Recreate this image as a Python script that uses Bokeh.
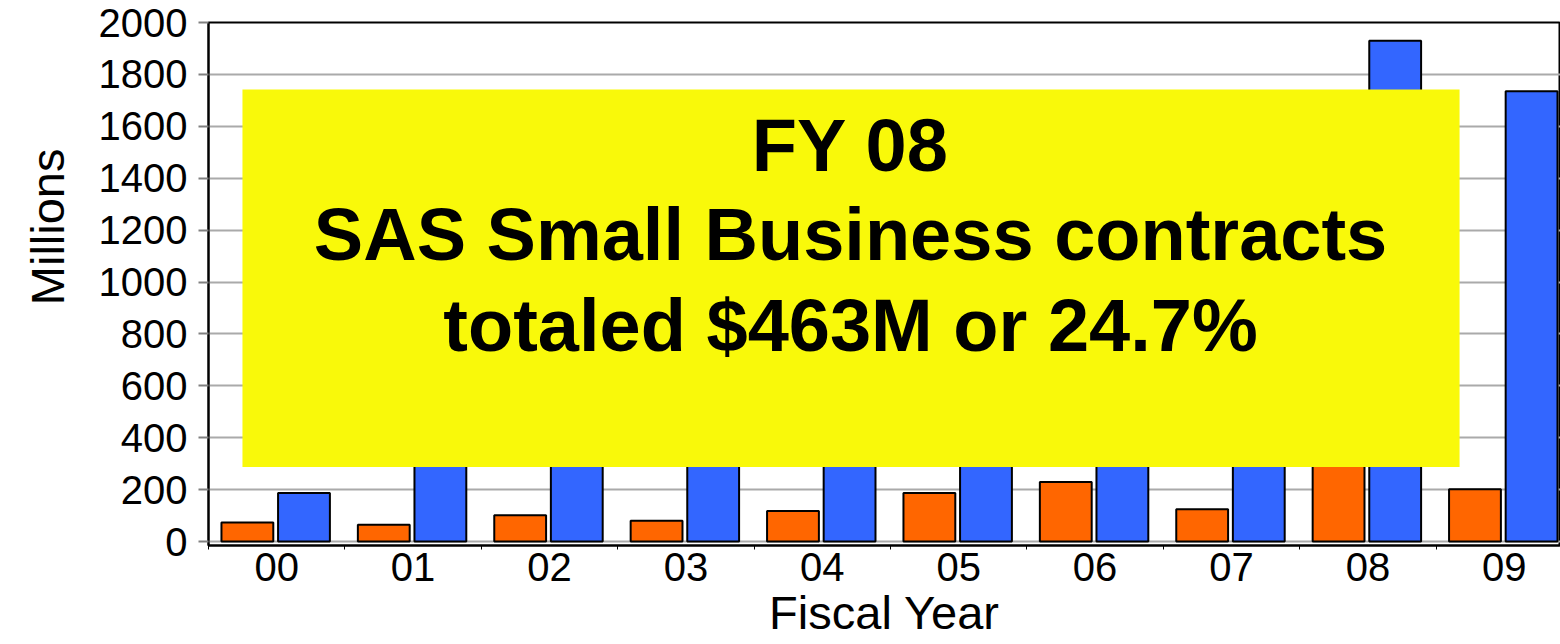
import numpy as np
from bokeh.plotting import figure
from bokeh.models import Range1d, FixedTicker, BoxAnnotation, Label, Title
from bokeh.embed import file_html
from bokeh.resources import INLINE

# ---- data ----
years = ["00", "01", "02", "03", "04", "05", "06", "07", "08", "09"]
small_business = [74, 65, 102, 80, 118, 187, 230, 125, 463, 202]      # orange, $M
total_sas = [187, 600, 720, 860, 960, 1060, 1260, 1480, 1930, 1735]   # blue, $M
y_ticks = [0, 200, 400, 600, 800, 1000, 1200, 1400, 1600, 1800, 2000]
box_lines = ["FY 08", "SAS Small Business contracts", "totaled $463M or 24.7%"]

FONT = "Liberation Sans"
ORANGE = "#FF6600"
BLUE = "#3366FF"
YELLOW = "#F9F90A"

x = np.arange(len(years))

p = figure(width=1560, height=644, output_backend="svg", toolbar_location=None,
           x_range=Range1d(-0.5, 9.412), y_range=Range1d(-15, 2000),
           min_border_left=208, min_border_right=0, min_border_top=22, min_border_bottom=99,
           background_fill_color="white", border_fill_color="white")

p.vbar(x=x - 0.215, top=small_business, width=0.38, bottom=0,
       fill_color=ORANGE, line_color="black", line_width=2)
p.vbar(x=x + 0.2, top=total_sas, width=0.38, bottom=0,
       fill_color=BLUE, line_color="black", line_width=2)

# overlay box
p.add_layout(BoxAnnotation(left=-0.251, right=8.672, bottom=287, top=1742,
                           fill_color=YELLOW, fill_alpha=1.0, line_alpha=0, level="overlay"))
for txt, yc in zip(box_lines, [1526, 1185, 833]):
    p.add_layout(Label(x=4.207, y=yc, text=txt, text_align="center", text_baseline="middle",
                       text_font=FONT, text_font_size="74px", text_font_style="bold",
                       text_color="black", level="overlay"))

# y axis title
p.add_layout(Title(text="Millions", align="right", vertical_align="top", offset=126, standoff=40,
                   text_font=FONT, text_font_size="47px", text_font_style="normal",
                   text_color="black"), "left")

# axes
p.xaxis.ticker = FixedTicker(ticks=list(x), minor_ticks=list(np.arange(len(years) + 1) - 0.5))
p.xaxis.major_label_overrides = {int(i): y for i, y in zip(x, years)}
p.xaxis.major_tick_out = 0
p.xaxis.major_tick_in = 0
p.xaxis.minor_tick_out = 4
p.xaxis.minor_tick_in = 0
p.xaxis.minor_tick_line_color = "black"
p.xaxis.major_label_standoff = 3
p.xaxis.axis_label = "Fiscal Year"
p.xaxis.axis_label_standoff = 2
p.xaxis.axis_label_text_font = FONT
p.xaxis.axis_label_text_font_size = "47px"
p.xaxis.axis_label_text_font_style = "normal"
p.xaxis.axis_label_text_color = "black"

p.yaxis.ticker = FixedTicker(ticks=y_ticks)
p.yaxis.minor_tick_line_color = None
p.yaxis.major_tick_out = 10
p.yaxis.major_tick_in = 0
p.yaxis.major_tick_line_color = "#808080"
p.yaxis.major_tick_line_width = 2
p.yaxis.major_label_standoff = 11

for ax in (p.xaxis, p.yaxis):
    ax.axis_line_color = "black"
    ax.axis_line_width = 2
    ax.major_label_text_font = FONT
    ax.major_label_text_font_size = "40px"
    ax.major_label_text_color = "black"

p.xgrid.grid_line_color = None
p.ygrid.grid_line_color = "#AAAAAA"
p.ygrid.grid_line_width = 2
p.ygrid.ticker = FixedTicker(ticks=y_ticks)

p.outline_line_color = "black"
p.outline_line_width = 2

open("out.html", "w").write(file_html(p, INLINE))
